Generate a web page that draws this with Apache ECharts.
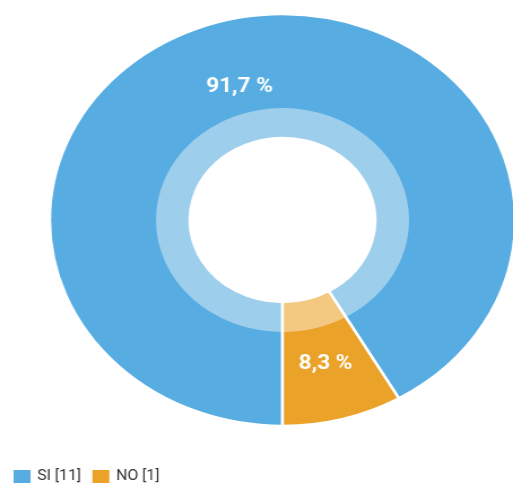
<!DOCTYPE html>
<html>
<head>
<meta charset="utf-8">
<script src="https://cdn.jsdelivr.net/npm/echarts@6/dist/echarts.min.js"></script>
<style>
  html, body { margin: 0; padding: 0; background: #fff; overflow: hidden; }
  #wrap { width: 513px; height: 487px; overflow: hidden; }
  /* the reference is stretched horizontally, so the chart is drawn narrow and scaled */
  #chart { width: 454px; height: 487px; transform: scaleX(1.13); transform-origin: 0 0; }
</style>
</head>
<body>
<div id="wrap"><div id="chart"></div></div>
<script>
// dati
const categories = ['SI', 'NO'];
const values = [11, 1];
const percentLabels = ['91,7 %', '8,3 %'];
const colors = ['#57ADE1', '#EBA229'];

const pieData = categories.map((name, i) => ({
    name: name,
    value: values[i],
    label: { formatter: percentLabels[i], offset: i === 0 ? [0, 9] : [0, 2] }
}));

const chart = echarts.init(document.getElementById('chart'));

const option = {
    color: colors,
    animation: false,
    legend: {
        left: 10,
        top: 468,
        padding: 0,
        itemWidth: 17,
        itemHeight: 15,
        itemGap: 8,
        icon: 'rect',
        data: categories,
        formatter: function (name) {
            return name + ' [' + values[categories.indexOf(name)] + ']';
        },
        textStyle: {
            fontFamily: 'Roboto',
            fontSize: 14,
            color: '#333333'
        }
    },
    series: [
        {
            type: 'pie',
            center: [250, 220],
            radius: [82, 206],
            startAngle: -90,
            clockwise: true,
            silent: true,
            itemStyle: {
                borderColor: '#ffffff',
                borderWidth: 2.5
            },
            label: {
                show: true,
                position: 'inside',
                color: '#ffffff',
                fontFamily: 'Roboto',
                fontWeight: 'bold',
                fontSize: 20
            },
            labelLine: { show: false },
            data: pieData
        },
        {
            // anello interno più chiaro
            type: 'pie',
            center: [250, 220],
            radius: [82, 112],
            startAngle: -90,
            clockwise: true,
            silent: true,
            legendHoverLink: false,
            itemStyle: {
                color: 'rgba(255,255,255,0.42)',
                borderWidth: 0
            },
            label: { show: false },
            labelLine: { show: false },
            data: categories.map((name, i) => ({ name: name, value: values[i] }))
        }
    ]
};

chart.setOption(option);
</script>
</body>
</html>
